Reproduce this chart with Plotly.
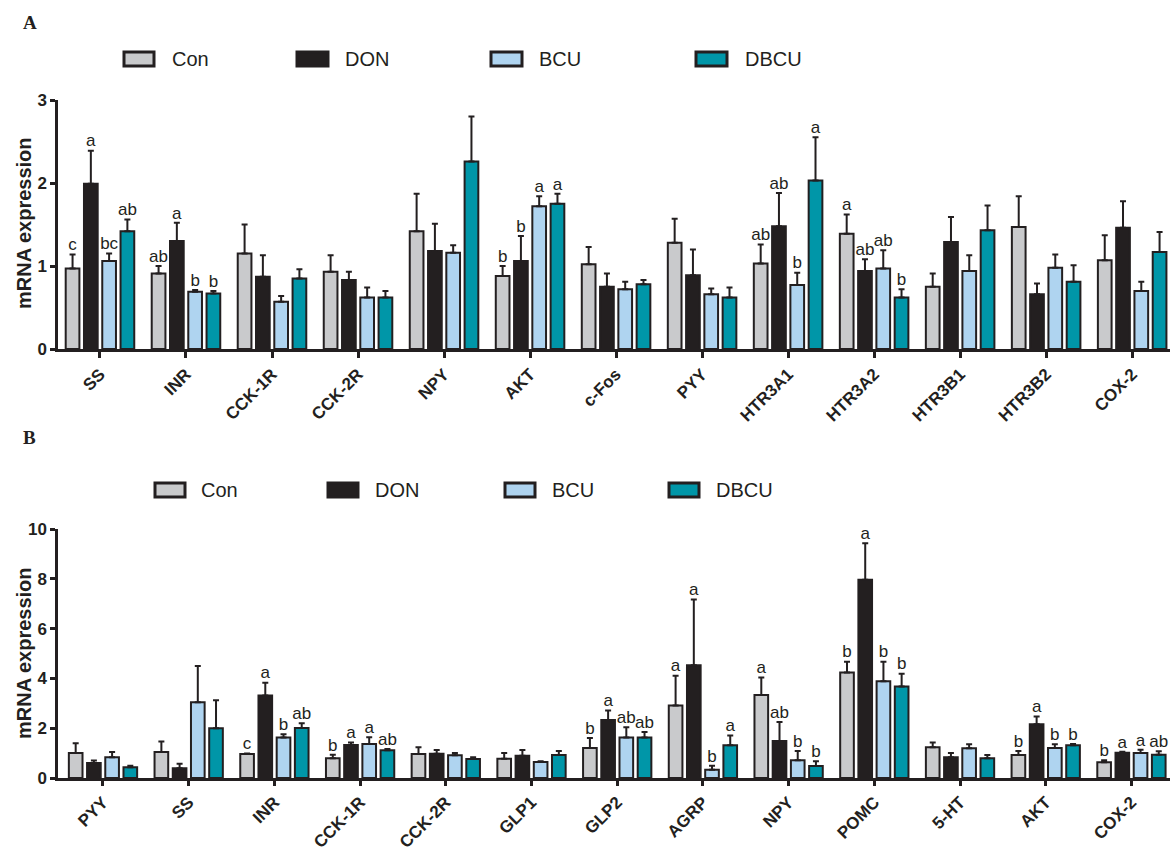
import plotly.graph_objects as go
import numpy as np

# ---------------- Panel A data ----------------
A_genes = ["SS", "INR", "CCK-1R", "CCK-2R", "NPY", "AKT", "c-Fos", "PYY",
           "HTR3A1", "HTR3A2", "HTR3B1", "HTR3B2", "COX-2"]
A_con = [0.97, 0.91, 1.15, 0.93, 1.42, 0.88, 1.02, 1.28, 1.03, 1.39, 0.75, 1.47, 1.07]
A_con_sem = [0.17, 0.09, 0.35, 0.20, 0.45, 0.12, 0.21, 0.29, 0.23, 0.23, 0.16, 0.37, 0.30]
A_don = [1.99, 1.30, 0.87, 0.83, 1.18, 1.06, 0.75, 0.89, 1.48, 0.94, 1.29, 0.66, 1.46]
A_don_sem = [0.40, 0.22, 0.26, 0.10, 0.33, 0.30, 0.16, 0.31, 0.40, 0.14, 0.30, 0.13, 0.32]
A_bcu = [1.06, 0.69, 0.57, 0.62, 1.16, 1.72, 0.72, 0.66, 0.77, 0.97, 0.94, 0.98, 0.70]
A_bcu_sem = [0.09, 0.02, 0.07, 0.12, 0.09, 0.12, 0.09, 0.07, 0.15, 0.22, 0.19, 0.16, 0.11]
A_dbcu = [1.42, 0.67, 0.85, 0.62, 2.26, 1.75, 0.78, 0.62, 2.03, 0.62, 1.43, 0.81, 1.17]
A_dbcu_sem = [0.14, 0.03, 0.11, 0.08, 0.54, 0.12, 0.05, 0.12, 0.52, 0.10, 0.30, 0.20, 0.24]
A_con_lab = ["c", "ab", "", "", "", "b", "", "", "ab", "a", "", "", ""]
A_don_lab = ["a", "a", "", "", "", "b", "", "", "ab", "ab", "", "", ""]
A_bcu_lab = ["bc", "b", "", "", "", "a", "", "", "b", "ab", "", "", ""]
A_dbcu_lab = ["ab", "b", "", "", "", "a", "", "", "a", "b", "", "", ""]

# ---------------- Panel B data ----------------
B_genes = ["PYY", "SS", "INR", "CCK-1R", "CCK-2R", "GLP1", "GLP2", "AGRP", "NPY",
           "POMC", "5-HT", "AKT", "COX-2"]
B_con = [1.00, 1.04, 0.96, 0.79, 0.96, 0.77, 1.20, 2.91, 3.33, 4.24, 1.23, 0.92, 0.63]
B_con_sem = [0.40, 0.43, 0.02, 0.14, 0.27, 0.23, 0.41, 1.20, 0.71, 0.43, 0.20, 0.16, 0.08]
B_don = [0.60, 0.39, 3.31, 1.33, 0.97, 0.89, 2.33, 4.53, 1.49, 7.96, 0.83, 2.16, 1.01]
B_don_sem = [0.10, 0.18, 0.52, 0.10, 0.15, 0.23, 0.38, 2.64, 0.76, 1.47, 0.17, 0.31, 0.04]
B_bcu = [0.83, 3.04, 1.63, 1.37, 0.91, 0.64, 1.63, 0.33, 0.71, 3.89, 1.19, 1.20, 1.00]
B_bcu_sem = [0.21, 1.46, 0.13, 0.27, 0.09, 0.03, 0.41, 0.16, 0.37, 0.78, 0.17, 0.16, 0.13]
B_dbcu = [0.43, 2.00, 2.01, 1.11, 0.76, 0.92, 1.63, 1.32, 0.48, 3.67, 0.79, 1.32, 0.93]
B_dbcu_sem = [0.06, 1.12, 0.19, 0.05, 0.07, 0.16, 0.22, 0.39, 0.19, 0.52, 0.13, 0.05, 0.14]
B_con_lab = ["", "", "c", "b", "", "", "b", "a", "a", "b", "", "b", "b"]
B_don_lab = ["", "", "a", "a", "", "", "a", "a", "ab", "a", "", "a", "a"]
B_bcu_lab = ["", "", "b", "a", "", "", "ab", "b", "b", "b", "", "b", "a"]
B_dbcu_lab = ["", "", "ab", "ab", "", "", "ab", "a", "b", "b", "", "b", "ab"]

groups = ["Con", "DON", "BCU", "DBCU"]
colors = ["#C9CACC", "#231F20", "#AFD4F0", "#0096A8"]
INK = "#231F20"
W, H = 1172, 852
BARGAP = 0.15
BARGROUPGAP = 0.25

fig = go.Figure()


def add_panel(xa, ya, means, sems, labels):
    x = np.arange(len(means[0]))
    n = len(means)
    slot = (1 - BARGAP) / n
    for j in range(n):
        fig.add_trace(go.Bar(
            x=x, y=means[j], name=groups[j], xaxis=xa, yaxis=ya,
            marker=dict(color=colors[j], line=dict(color=INK, width=2)),
            error_y=dict(type="data", array=sems[j], arrayminus=[0] * len(sems[j]),
                         symmetric=False, color=INK, thickness=2, width=3),
            showlegend=False, hoverinfo="skip"))
    for j in range(n):
        xs = x - (1 - BARGAP) / 2 + (j + 0.5) * slot
        tops = np.array(means[j]) + np.array(sems[j])
        fig.add_trace(go.Scatter(
            x=xs, y=tops, text=labels[j], mode="text", textposition="top center",
            textfont=dict(family="Liberation Sans, Arial", size=17, color=INK),
            xaxis=xa, yaxis=ya, showlegend=False, cliponaxis=False, hoverinfo="skip"))


add_panel("x", "y", [A_con, A_don, A_bcu, A_dbcu],
          [A_con_sem, A_don_sem, A_bcu_sem, A_dbcu_sem],
          [A_con_lab, A_don_lab, A_bcu_lab, A_dbcu_lab])
add_panel("x2", "y2", [B_con, B_don, B_bcu, B_dbcu],
          [B_con_sem, B_don_sem, B_bcu_sem, B_dbcu_sem],
          [B_con_lab, B_don_lab, B_bcu_lab, B_dbcu_lab])


def py(p):
    return 1 - p / H


def px(p):
    return p / W


tickfont = dict(family="Liberation Sans, Arial", size=17, color=INK, weight="bold")
ytickfont = dict(family="Liberation Sans, Arial", size=17, color=INK, weight="bold")
axis_common = dict(showline=True, linecolor=INK, linewidth=2.5, ticks="outside",
                   tickwidth=2.5, tickcolor=INK, showgrid=False, automargin=False,
                   zeroline=False, fixedrange=True)

fig.update_layout(
    width=W, height=H, margin=dict(l=0, r=0, t=0, b=0, pad=0, autoexpand=False),
    paper_bgcolor="white", plot_bgcolor="white",
    barmode="group", bargap=BARGAP, bargroupgap=BARGROUPGAP,
    xaxis=dict(domain=[px(58), px(1170)], range=[-0.488, 12.44], anchor="y",
               tickmode="array", tickvals=list(range(13)), ticktext=A_genes,
               tickangle=-45, ticklen=6, tickfont=tickfont, **axis_common),
    yaxis=dict(domain=[py(349), py(100)], range=[0, 3], anchor="x",
               tickmode="array", tickvals=[0, 1, 2, 3], ticklen=5,
               tickfont=ytickfont, **axis_common),
    xaxis2=dict(domain=[px(58), px(1170)], range=[-0.525, 12.45], anchor="y2",
                tickmode="array", tickvals=list(range(13)), ticktext=B_genes,
                tickangle=-45, ticklen=5, tickfont=tickfont, **axis_common),
    yaxis2=dict(domain=[py(778), py(529)], range=[0, 10], anchor="x2",
                tickmode="array", tickvals=[0, 2, 4, 6, 8, 10], ticklen=5,
                tickfont=ytickfont, **axis_common),
)

annotations = []
shapes = []

# panel letters
for letter, yp in [("A", 22), ("B", 437)]:
    annotations.append(dict(text=letter, x=px(21), y=py(yp), xref="paper", yref="paper",
                            xanchor="left", yanchor="middle", showarrow=False,
                            font=dict(family="Liberation Serif, Times New Roman", size=19,
                                      color=INK, weight="bold")))

# y-axis titles
for yc in [223, 653]:
    annotations.append(dict(text="mRNA expression", x=px(24), y=py(yc), xref="paper",
                            yref="paper", xanchor="center", yanchor="middle",
                            textangle=-90, showarrow=False,
                            font=dict(family="Liberation Sans, Arial", size=20,
                                      color=INK, weight="bold")))

# legends (drawn as boxes + text)
legA = [(124, 154, 170), (297, 328, 343), (491, 522, 537), (696, 727, 743)]
legB = [(155, 185, 199), (328, 358, 373), (505, 535, 550), (669, 699, 714)]
for leg, yc in [(legA, 59), (legB, 490)]:
    for j, (x0, x1, xt) in enumerate(leg):
        shapes.append(dict(type="rect", xref="paper", yref="paper",
                           x0=px(x0), x1=px(x1), y0=py(yc + 7), y1=py(yc - 7),
                           fillcolor=colors[j], line=dict(color=INK, width=3)))
        annotations.append(dict(text=groups[j], x=px(xt), y=py(yc), xref="paper",
                                yref="paper", xanchor="left", yanchor="middle",
                                showarrow=False,
                                font=dict(family="Liberation Sans, Arial", size=20,
                                          color=INK)))

fig.update_layout(annotations=annotations, shapes=shapes)
fig.write_html("out.html", config={"displayModeBar": False},
               post_script="document.body.style.margin='0px';document.body.style.padding='0px';")
